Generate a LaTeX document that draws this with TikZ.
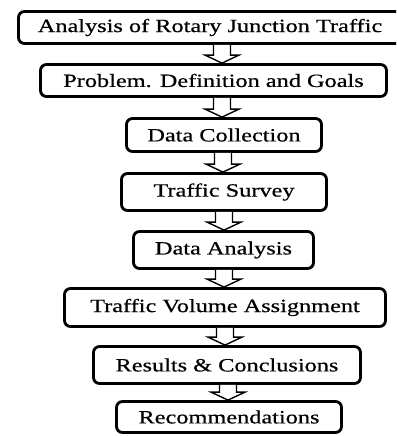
\documentclass[tikz,border=0pt]{standalone}
\usepackage{fontspec}
\setmainfont{Liberation Serif}
\newfontfamily\boxfont[FakeStretch=1.3,FakeBold=0.5]{Liberation Serif}
\usetikzlibrary{calc}
\tikzset{
  stepbox/.style={draw=black, line width=2.8pt, rounded corners=6pt, fill=white,
    inner sep=0pt, font=\boxfont\fontsize{18.7}{21}\selectfont},
  barrow/.style={draw=black, line width=1.4pt, fill=white, line join=miter},
}
\newcommand{\blockarrow}[3]{%
  \coordinate (ax) at (#3,0);
  \draw[barrow] ($(ax |- #1.south)+(-8.5,0)$) -- ($(ax |- #2.north)+(-8.5,-8)$)
    -- ($(ax |- #2.north)+(-17,-8)$) -- (ax |- #2.north) -- ($(ax |- #2.north)+(17,-8)$)
    -- ($(ax |- #2.north)+(8.5,-8)$) -- ($(ax |- #1.south)+(8.5,0)$);
}
\begin{document}
\begin{tikzpicture}[x=1pt,y=-1pt]
\useasboundingbox (0,0) rectangle (396,436);
\clip (0,0) rectangle (396,436);
\fill[white] (0,0) rectangle (396,436);
\node[stepbox, minimum width=383pt, minimum height=32pt] (n1) at (210,27.5) {Analysis of Rotary Junction Traffic};
\node[stepbox, minimum width=346pt, minimum height=32pt] (n2) at (213.5,80.5) {Problem. Definition and Goals};
\node[stepbox, minimum width=195pt, minimum height=33pt] (n3) at (224,135) {Data Collection};
\node[stepbox, minimum width=205pt, minimum height=37pt] (n4) at (224,192) {Traffic Survey};
\node[stepbox, minimum width=180pt, minimum height=37pt] (n5) at (223.5,250) {Data Analysis};
\node[stepbox, minimum width=321pt, minimum height=38pt] (n6) at (225,307.5) {Traffic Volume Assignment};
\node[stepbox, minimum width=267pt, minimum height=37pt] (n7) at (227,365) {Results \& Conclusions};
\node[stepbox, minimum width=225pt, minimum height=31pt] (n8) at (229,417) {Recommendations};
\blockarrow{n1}{n2}{222}
\blockarrow{n2}{n3}{222}
\blockarrow{n3}{n4}{223}
\blockarrow{n4}{n5}{224}
\blockarrow{n5}{n6}{224}
\blockarrow{n6}{n7}{225}
\blockarrow{n7}{n8}{228}
\end{tikzpicture}
\end{document}
